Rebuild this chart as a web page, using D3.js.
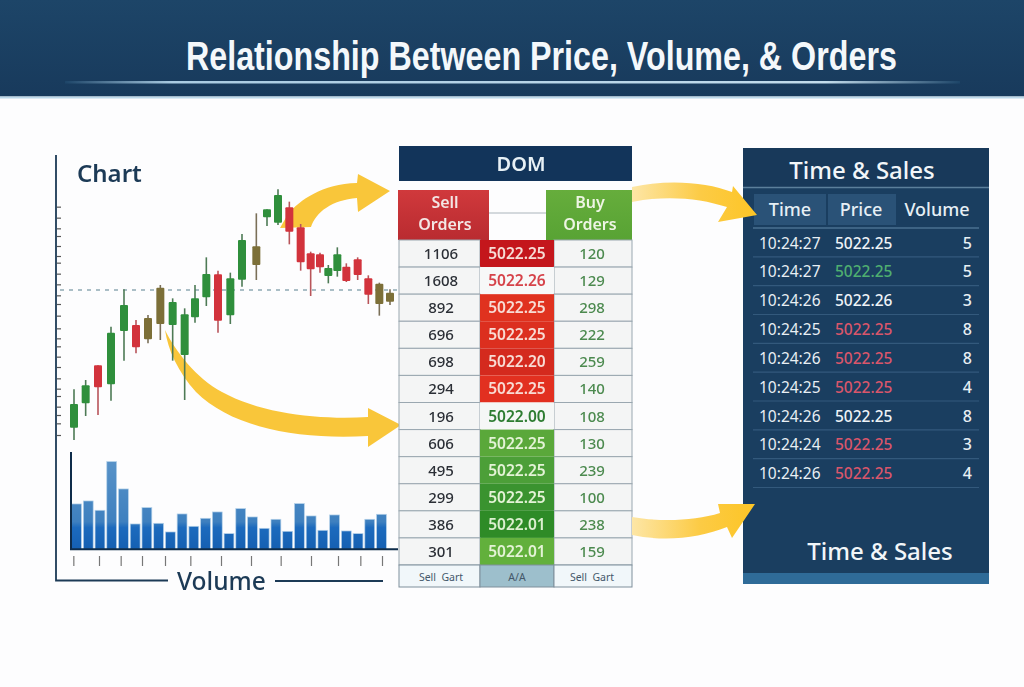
<!DOCTYPE html>
<html>
<head>
<meta charset="utf-8">
<script src="https://cdn.jsdelivr.net/npm/d3@7"></script>
<style>
  html, body { margin: 0; padding: 0; background: #fdfdfe; }
  svg { display: block; filter: blur(0.35px); }
  text { font-family: "Noto Sans", sans-serif; }
</style>
</head>
<body>
<div id="chart"></div>
<script>
// candles
const candleTimes = [72, 107, 144, 183, 222, 258, 294, 331, 368, 404, 435, 469, 504, 541, 576, 619, 651, 684, 718, 752, 782, 810, 835, 862, 889, 923, 955, 988, 1020];
const candleHighs = [15.2, 18.0, 22.4, 34.0, 45.2, 36.0, 37.5, 46.5, 42.5, 39.5, 46.5, 54.8, 50.8, 50.2, 61.8, 68.0, 69.2, 75.2, 71.5, 64.8, 56.5, 56.2, 52.5, 57.8, 53.0, 54.8, 49.4, 47.2, 45.2];
const candleTops = [10.8, 16.4, 22.4, 32.2, 40.5, 34.5, 36.6, 45.7, 41.4, 37.7, 42.5, 49.8, 49.7, 48.5, 60.0, 58.1, 69.2, 73.5, 69.8, 63.8, 56.0, 55.7, 51.6, 55.7, 52.0, 54.2, 48.5, 46.9, 44.2];
const candleBottoms = [3.7, 11.0, 15.8, 16.7, 32.7, 27.8, 30.2, 34.8, 34.5, 25.5, 36.8, 42.8, 35.8, 37.4, 48.1, 52.5, 66.8, 65.2, 62.5, 53.3, 51.2, 51.8, 49.2, 50.7, 47.7, 49.5, 43.6, 40.8, 41.5];
const candleLows = [0, 7.2, 7.5, 11.8, 23.8, 26.0, 29.0, 30.0, 23.8, 12.0, 35.2, 40.2, 32.2, 34.8, 46.0, 48.0, 64.2, 64.5, 58.7, 50.8, 43.2, 50.2, 47.0, 49.0, 47.4, 48.0, 40.8, 37.3, 40.5];
const candleSides = ["up", "up", "down", "up", "up", "down", "mixed", "mixed", "up", "up", "up", "up", "down", "up", "up", "mixed", "up", "up", "down", "down", "down", "down", "up", "up", "down", "down", "down", "mixed", "mixed"];
const priceLevel = 45;
const priceTicks = [70, 66.7, 63.5, 61.2, 58.2, 55.2, 53.2, 49.9, 46.7, 43.4, 40.8, 37.3, 33.5, 30.5, 28.1, 25, 21.9, 18.5, 15.4, 13.2, 10, 7.5, 5, 1.5];

// volume
const volumes = [136, 145, 117, 263, 181, 76, 125, 78, 52, 106, 69, 93, 112, 47, 122, 97, 63, 90, 54, 137, 100, 57, 103, 55, 47, 90, 105];
const volumeTicks = [70, 147, 212, 276, 345, 421, 513, 603, 692, 783, 864, 931, 996];

// DOM ladder
const sellOrders = ["1106", "1608", "892", "696", "698", "294", "196", "606", "495", "299", "386", "301"];
const domPrices = ["5022.25", "5022.26", "5022.25", "5022.25", "5022.20", "5022.25", "5022.00", "5022.25", "5022.25", "5022.25", "5022.01", "5022.01"];
const buyOrders = ["120", "129", "298", "222", "259", "140", "108", "130", "239", "100", "238", "159"];
const domFooter = ["Sell  Gart", "A/A", "Sell  Gart"];

// time & sales
const tsTimes = ["10:24:27", "10:24:27", "10:24:26", "10:24:25", "10:24:26", "10:24:25", "10:24:26", "10:24:24", "10:24:26"];
const tsPrices = ["5022.25", "5022.25", "5022.26", "5022.25", "5022.25", "5022.25", "5022.25", "5022.25", "5022.25"];
const tsSides = ["flat", "buy", "flat", "sell", "sell", "sell", "flat", "sell", "sell"];
const tsVolumes = [5, 5, 3, 8, 8, 4, 8, 3, 4];

const width = 1024;
const height = 687;
const navy = "#1c3a56";

const svg = d3.select("#chart").append("svg").attr("width", width).attr("height", height);
const defs = svg.append("defs");

function linearGradient(id, stops, attrs) {
  const g = defs.append("linearGradient").attr("id", id);
  Object.entries(attrs || {}).forEach(([k, v]) => g.attr(k, v));
  stops.forEach(([o, c]) => g.append("stop").attr("offset", o).attr("stop-color", c));
}
linearGradient("headerFill", [[0, "#1d4568"], [1, "#183a5c"]], { x1: 0, x2: 0, y1: 0, y2: 1 });
linearGradient("ruleFill", [[0, "#1d4568"], [0.12, "#a9cbe2"], [0.85, "#c2dcec"], [1, "#1d4568"]]);
linearGradient("arrowFade", [[0, "#fde6a6"], [0.55, "#fccb45"], [1, "#fdc526"]]);
linearGradient("sellFill", [[0, "#d0393c"], [1, "#b92b30"]], { x1: 0, x2: 0, y1: 0, y2: 1 });
linearGradient("buyFill", [[0, "#66ad3c"], [1, "#58a334"]], { x1: 0, x2: 0, y1: 0, y2: 1 });
linearGradient("barFill", [[0, "#5c95c9"], [0.72, "#3e80bf"], [0.78, "#1c6abd"], [1, "#1560b2"]],
  { gradientUnits: "userSpaceOnUse", x1: 0, x2: 0, y1: 452, y2: 549 });

// title band
svg.append("rect").attr("width", width).attr("height", 96.5).attr("fill", "url(#headerFill)");
svg.append("rect").attr("y", 96.5).attr("width", width).attr("height", 2).attr("fill", "#bcd8ea");
svg.append("rect").attr("x", 65).attr("y", 81).attr("width", 895).attr("height", 2.5).attr("fill", "url(#ruleFill)");
const title = svg.append("text")
  .style("font-family", "'Liberation Sans Narrow', 'Liberation Sans', sans-serif")
  .style("font-size", "40px").style("font-weight", 700)
  .attr("fill", "#f4f8fb")
  .text("Relationship Between Price, Volume, & Orders");
// squeeze the title sideways, no narrow bold face gives this look on its own
title.attr("transform", `translate(186,69.5) scale(${711 / title.node().getComputedTextLength()},1)`);

// scales for the candle chart
const x = d3.scaleLinear().domain([0, 1050]).range([50, 400]);
const y = d3.scaleLinear().domain([0, 87]).range([440, 150]);
const volY = d3.scaleLinear().domain([0, 293]).range([549.3, 451.6]);
const volX = d3.scaleBand().domain(d3.range(volumes.length)).range([71, 387]).paddingInner(0.16).paddingOuter(0.05);

// frame
svg.append("path").attr("d", "M56,155V580.5H168").attr("fill", "none").attr("stroke", navy).attr("stroke-width", 1.8);
svg.append("line").attr("x1", 275).attr("x2", 383).attr("y1", 581).attr("y2", 581).attr("stroke", navy).attr("stroke-width", 1.8);

svg.append("text").attr("x", 77).attr("y", 182)
  .style("font-size", "24px").style("font-weight", 600).attr("fill", navy).text("Chart");
svg.append("text").attr("x", 177).attr("y", 590)
  .style("font-size", "24.5px").style("font-weight", 500).attr("fill", navy).text("Volume");

// price ticks on the left side
const priceAxis = svg.append("g")
  .attr("transform", "translate(57,0)")
  .call(d3.axisRight(y).tickValues(priceTicks).tickSize(4).tickFormat(""));
priceAxis.select(".domain").remove();
priceAxis.selectAll("line").attr("stroke", "#555").attr("stroke-width", 1.2);

// these two arrows go under the candles
svg.append("g").selectAll("path")
  .data([
    "M288,214C300,200 322,184 357,183L358,174L390,191L358,212L357,198C332,200 316,212 311,227L280,228Z",
    "M165,330C176,352 196,378 222,392C262,414 320,420 368,417L368,408L401,425L368,447L368,436C300,440 232,428 196,392C178,372 168,350 165,330Z"
  ])
  .join("path")
  .attr("d", (d) => d)
  .attr("fill", "#f9c63a");

// reference price line
svg.append("line")
  .attr("x1", 60).attr("x2", 397)
  .attr("y1", y(priceLevel)).attr("y2", y(priceLevel))
  .attr("stroke", "#8fa9b4").attr("stroke-width", 1.3).attr("stroke-dasharray", "4,5");

// candles
const candleColor = { up: "#2f8f3c", down: "#d2333c", mixed: "#7c6f38" };
const wickColor = { up: "#4d7a55", down: "#b8545a", mixed: "#7a6f58" };
const candles = svg.append("g").selectAll("g").data(candleTimes).join("g");
candles.append("line")
  .attr("x1", (d) => x(d)).attr("x2", (d) => x(d))
  .attr("y1", (d, i) => y(candleHighs[i])).attr("y2", (d, i) => y(candleLows[i]))
  .attr("stroke", (d, i) => wickColor[candleSides[i]]).attr("stroke-width", 1.6);
candles.append("rect")
  .attr("x", (d) => x(d) - 4).attr("width", 8)
  .attr("y", (d, i) => y(candleTops[i]))
  .attr("height", (d, i) => y(candleBottoms[i]) - y(candleTops[i]))
  .attr("rx", 1)
  .attr("fill", (d, i) => candleColor[candleSides[i]]);

// volume bars
svg.append("g").selectAll("rect").data(volumes).join("rect")
  .attr("x", (d, i) => volX(i)).attr("width", volX.bandwidth())
  .attr("y", (d) => volY(d)).attr("height", (d) => volY(0) - volY(d))
  .attr("fill", "url(#barFill)")
  .attr("stroke", "#b5d2ea").attr("stroke-width", 0.7);
svg.append("path").attr("d", `M71,452V${volY(0)}H398`).attr("fill", "none").attr("stroke", "#0e2c4a").attr("stroke-width", 2);

const timeAxis = svg.append("g")
  .attr("transform", "translate(0,556)")
  .call(d3.axisBottom(x).tickValues(volumeTicks).tickSize(10).tickFormat(""));
timeAxis.select(".domain").remove();
timeAxis.selectAll("line").attr("stroke", "#777").attr("stroke-width", 1.2);

// DOM ladder
svg.append("rect").attr("x", 399).attr("y", 146).attr("width", 233).attr("height", 35).attr("fill", "#12345a");
svg.append("text").attr("x", 521).attr("y", 170.5).attr("text-anchor", "middle")
  .style("font-size", "20px").style("font-weight", 600).attr("fill", "#e8f1f6").text("DOM");

svg.append("rect").attr("x", 398).attr("y", 190).attr("width", 91).attr("height", 50).attr("fill", "url(#sellFill)");
svg.append("rect").attr("x", 546).attr("y", 190).attr("width", 86).attr("height", 50).attr("fill", "url(#buyFill)");
svg.append("line").attr("x1", 489).attr("x2", 546).attr("y1", 213).attr("y2", 213).attr("stroke", "#aab4bb");

[["Sell", 445, 208], ["Orders", 445, 230]].forEach(([t, tx, ty]) => {
  svg.append("text").attr("x", tx).attr("y", ty).attr("text-anchor", "middle")
    .style("font-size", "16px").style("font-weight", 600).attr("fill", "#f3e6e4").text(t);
});
[["Buy", 590, 208], ["Orders", 590, 230]].forEach(([t, tx, ty]) => {
  svg.append("text").attr("x", tx).attr("y", ty).attr("text-anchor", "middle")
    .style("font-size", "16px").style("font-weight", 600).attr("fill", "#eef5e4").text(t);
});

const rowY = d3.scaleBand().domain(d3.range(sellOrders.length)).range([240, 565]);
const colX = d3.scaleOrdinal().domain(["sell", "price", "buy"]).range([399, 480, 554]);
const colW = { sell: 81, price: 74, buy: 78 };
const priceCellFill = ["#c4161c", "#f7f8f8", "#e0321f", "#dc2f1f", "#d42a1e", "#e23020", "#f5f7f6", "#5aa83a", "#4c9f38", "#3a932f", "#2e8b27", "#62b03c"];
const priceTextFill = ["#f6dcd6", "#d6434a", "#f8dcd4", "#f8dcd4", "#f8dcd4", "#f8dcd4", "#2e7d32", "#e4f3d6", "#e4f3d6", "#e4f3d6", "#dcf0d0", "#e4f3d6"];

const rows = svg.append("g").selectAll("g").data(sellOrders).join("g")
  .attr("transform", (d, i) => `translate(0,${rowY(i)})`);
["sell", "buy"].forEach((c) => {
  rows.append("rect").attr("x", colX(c)).attr("width", colW[c]).attr("height", rowY.bandwidth())
    .attr("fill", "#f4f5f5").attr("stroke", "#9aa7b0").attr("stroke-width", 1);
});
rows.append("rect").attr("x", colX("price")).attr("width", colW.price).attr("height", rowY.bandwidth())
  .attr("fill", (d, i) => priceCellFill[i]);
const rowText = rowY.bandwidth() / 2 + 5.5;
rows.append("text").attr("x", 441).attr("y", rowText).attr("text-anchor", "middle")
  .style("font-size", "15px").style("font-weight", 500).attr("fill", "#2b2f36").text((d) => d);
rows.append("text").attr("x", 517).attr("y", rowText).attr("text-anchor", "middle")
  .style("font-size", "15.5px").style("font-weight", 600)
  .attr("fill", (d, i) => priceTextFill[i]).text((d, i) => domPrices[i]);
rows.append("text").attr("x", 592).attr("y", rowText).attr("text-anchor", "middle")
  .style("font-size", "15px").style("font-weight", 500).attr("fill", "#4c8a4f").text((d, i) => buyOrders[i]);

const footer = svg.append("g").selectAll("g").data(domFooter).join("g");
footer.append("rect")
  .attr("x", (d, i) => colX.range()[i]).attr("y", 565)
  .attr("width", (d, i) => colW[colX.domain()[i]]).attr("height", 22)
  .attr("fill", (d, i) => (i === 1 ? "#9dbfcc" : "#f1f7fa"))
  .attr("stroke", "#7f8f9b").attr("stroke-width", 1);
footer.append("text")
  .attr("x", (d, i) => [441, 517, 592][i]).attr("y", 581).attr("text-anchor", "middle")
  .style("font-size", "10.5px").attr("fill", "#44586a").attr("xml:space", "preserve").text((d) => d);

// time & sales panel
svg.append("rect").attr("x", 743).attr("y", 148).attr("width", 246).attr("height", 436).attr("fill", "#1a3e60");
svg.append("rect").attr("x", 743).attr("y", 148).attr("width", 246).attr("height", 39).attr("fill", "#18395a");
svg.append("rect").attr("x", 743).attr("y", 573).attr("width", 246).attr("height", 11).attr("fill", "#2f6b98");
svg.append("line").attr("x1", 743).attr("x2", 989).attr("y1", 187.5).attr("y2", 187.5).attr("stroke", "#5b7f9b").attr("stroke-width", 1.5);

svg.append("text").attr("x", 862).attr("y", 179).attr("text-anchor", "middle")
  .style("font-size", "24px").style("font-weight", 500).attr("fill", "#f2f6f9").text("Time & Sales");
svg.append("text").attr("x", 880).attr("y", 560).attr("text-anchor", "middle")
  .style("font-size", "24px").style("font-weight", 500).attr("fill", "#f2f6f9").text("Time & Sales");

svg.append("rect").attr("x", 754).attr("y", 194).attr("width", 72).attr("height", 31).attr("fill", "#2a5277");
svg.append("rect").attr("x", 828).attr("y", 194).attr("width", 68).attr("height", 31).attr("fill", "#2a5277");
[["Time", 790], ["Price", 861], ["Volume", 937]].forEach(([t, tx]) => {
  svg.append("text").attr("x", tx).attr("y", 216).attr("text-anchor", "middle")
    .style("font-size", "18px").style("font-weight", 500).attr("fill", "#e6eff5").text(t);
});

const tsY = d3.scaleBand().domain(d3.range(tsTimes.length)).range([228, 487.5]);
const tsPriceFill = { flat: "#eef3f7", buy: "#4fae70", sell: "#d9566b" };
const tsRows = svg.append("g").selectAll("g").data(tsTimes).join("g")
  .attr("transform", (d, i) => `translate(0,${tsY(i)})`);
tsRows.append("line").attr("x1", 753).attr("x2", 979).attr("y1", tsY.bandwidth()).attr("y2", tsY.bandwidth())
  .attr("stroke", "#33597c").attr("stroke-width", 1.2);
tsRows.append("text").attr("x", 759).attr("y", 20.5)
  .style("font-size", "15.5px").attr("fill", "#e8eff4").text((d) => d);
tsRows.append("text").attr("x", 835).attr("y", 20.5)
  .style("font-size", "15.5px").style("font-weight", 500)
  .attr("fill", (d, i) => tsPriceFill[tsSides[i]]).text((d, i) => tsPrices[i]);
tsRows.append("text").attr("x", 972).attr("y", 20.5).attr("text-anchor", "end")
  .style("font-size", "16px").style("font-weight", 500).attr("fill", "#e8eff4").text((d, i) => tsVolumes[i]);
svg.append("line").attr("x1", 753).attr("x2", 979).attr("y1", 228).attr("y2", 228).attr("stroke", "#4a7090").attr("stroke-width", 1.5);

// the two right arrows sit on top of the panel edge
svg.append("g").selectAll("path")
  .data([
    "M632,187C668,179 706,182 732,192L733,186L757,215L718,222L727,207C700,198 665,195 632,202Z",
    "M632,517C660,522 695,521 720,513L718,504L755,504L732,538L727,527C700,538 665,542 632,535Z"
  ])
  .join("path")
  .attr("d", (d) => d)
  .attr("fill", "url(#arrowFade)");
</script>
</body>
</html>
